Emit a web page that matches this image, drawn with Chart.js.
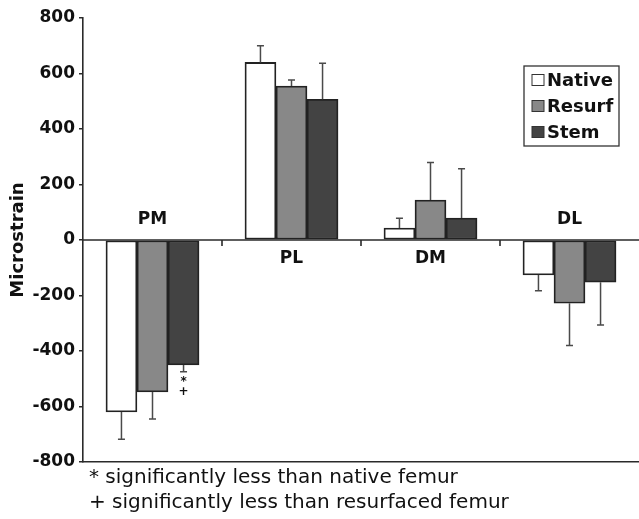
<!DOCTYPE html>
<html lang="en">
<head>
<meta charset="UTF-8">
<title>Microstrain by region</title>
<script src="https://cdn.jsdelivr.net/npm/chart.js"></script>
<style>
  html, body { margin: 0; padding: 0; background: #fff; }
  #wrap { width: 639px; height: 519px; }
</style>
</head>
<body>
<div id="wrap"><canvas id="chart"></canvas></div>
<script>
const regions = ['PM', 'PL', 'DM', 'DL'];
const seriesNames = ['Native', 'Resurf', 'Stem'];
const nativeMean = [-620, 640, 43, -126];
const nativeSD = [98, 60, 35, 57];
const resurfMean = [-548, 555, 144, -228];
const resurfSD = [97, 22, 135, 152];
const stemMean = [-450, 507, 79, -152];
const stemSD = [25, 130, 178, 154];
const stemMarks = [['*', '+'], [], [], []];
const footnotes = [
  '* significantly less than native femur',
  '+ significantly less than resurfaced femur'
];

const fillColors = ['#ffffff', '#888888', '#434343'];
const sdLists = [nativeSD, resurfSD, stemSD];
const FONT = '"DejaVu Sans", sans-serif';

// error bars, zero line, labels, legend, footnotes
const extras = {
  id: 'extras',
  afterDatasetsDraw(chart) {
    const ctx = chart.ctx;
    const x = chart.scales.x, y = chart.scales.y;
    const area = chart.chartArea;
    const y0 = y.getPixelForValue(0);
    ctx.save();

    // error bars (one-sided, away from zero)
    ctx.strokeStyle = '#4a4a4a';
    ctx.lineWidth = 1.5;
    chart.data.datasets.forEach((ds, di) => {
      const meta = chart.getDatasetMeta(di);
      meta.data.forEach((bar, i) => {
        const v = ds.data[i];
        const sd = sdLists[di][i];
        const end = y.getPixelForValue(v + Math.sign(v) * sd);
        ctx.beginPath();
        ctx.moveTo(bar.x, bar.y);
        ctx.lineTo(bar.x, end);
        ctx.moveTo(bar.x - 3.5, end);
        ctx.lineTo(bar.x + 3.5, end);
        ctx.stroke();
      });
    });

    // zero line and category separator ticks
    ctx.strokeStyle = '#2a2a2a';
    ctx.lineWidth = 1.6;
    ctx.beginPath();
    ctx.moveTo(area.left, y0);
    ctx.lineTo(chart.width, y0);
    for (let i = 1; i < regions.length; i++) {
      const xs = (x.getPixelForValue(i - 1) + x.getPixelForValue(i)) / 2;
      ctx.moveTo(xs, y0);
      ctx.lineTo(xs, y0 + 6);
    }
    ctx.stroke();

    // region labels, on the side of zero opposite to the bars
    ctx.fillStyle = '#111';
    ctx.font = 'bold 17px ' + FONT;
    ctx.textAlign = 'center';
    ctx.textBaseline = 'middle';
    regions.forEach((r, i) => {
      const neg = nativeMean[i] < 0;
      ctx.fillText(r, x.getPixelForValue(i), neg ? y0 - 20 : y0 + 19);
    });

    // significance marks under the stem bars
    const stemMeta = chart.getDatasetMeta(2);
    ctx.font = 'bold 12px ' + FONT;
    stemMarks.forEach((marks, i) => {
      const v = stemMean[i];
      let yy = y.getPixelForValue(v - stemSD[i]) + 10;
      marks.forEach(m => {
        ctx.fillText(m, stemMeta.data[i].x, yy);
        yy += 10;
      });
    });

    // legend box
    const lx = 524, ly = 66, lw = 95, lh = 80;
    ctx.strokeStyle = '#333';
    ctx.lineWidth = 1.3;
    ctx.strokeRect(lx, ly, lw, lh);
    ctx.font = 'bold 18px ' + FONT;
    ctx.textAlign = 'left';
    seriesNames.forEach((n, k) => {
      const cy = ly + 14 + k * 26;
      ctx.fillStyle = fillColors[k];
      ctx.fillRect(lx + 8, cy - 5.5, 12, 11);
      ctx.strokeStyle = '#333';
      ctx.lineWidth = 1;
      ctx.strokeRect(lx + 8, cy - 5.5, 12, 11);
      ctx.fillStyle = '#111';
      ctx.fillText(n, lx + 23, cy + 1);
    });

    // footnotes
    ctx.font = '20px ' + FONT;
    ctx.textBaseline = 'alphabetic';
    footnotes.forEach((t, k) => {
      ctx.fillText(t, 89, 483 + k * 25);
    });
    ctx.restore();
  }
};

new Chart(document.getElementById('chart'), {
  type: 'bar',
  data: {
    labels: regions,
    datasets: [nativeMean, resurfMean, stemMean].map((d, k) => ({
      label: seriesNames[k],
      data: d,
      backgroundColor: fillColors[k],
      borderColor: '#222',
      borderWidth: 1.8,
      borderSkipped: false,
      inflateAmount: 0.3
    }))
  },
  options: {
    responsive: true,
    maintainAspectRatio: false,
    animation: false,
    datasets: { bar: { categoryPercentage: 0.67, barPercentage: 1 } },
    layout: { padding: { top: 18, bottom: 57, right: 0, left: 0 } },
    plugins: { legend: { display: false }, tooltip: { enabled: false } },
    scales: {
      x: {
        ticks: { display: false },
        grid: { display: true, drawOnChartArea: false, drawTicks: false },
        border: { display: true, color: '#2a2a2a', width: 1.6 },
        afterFit(s) { s.height = 0; }
      },
      y: {
        min: -800,
        max: 800,
        ticks: {
          stepSize: 200,
          color: '#111',
          padding: 4,
          font: { family: FONT, size: 17, weight: 'bold' }
        },
        grid: { drawOnChartArea: false, drawTicks: true, tickLength: 4, color: '#2a2a2a', lineWidth: 1.5 },
        border: { display: true, color: '#2a2a2a', width: 1.6 },
        title: {
          display: true,
          text: 'Microstrain',
          color: '#111',
          padding: { top: 8, bottom: 0 },
          font: { family: FONT, size: 18, weight: 'bold' }
        },
        afterFit(s) { s.width = 83; }
      }
    }
  },
  plugins: [extras]
});
</script>
</body>
</html>
